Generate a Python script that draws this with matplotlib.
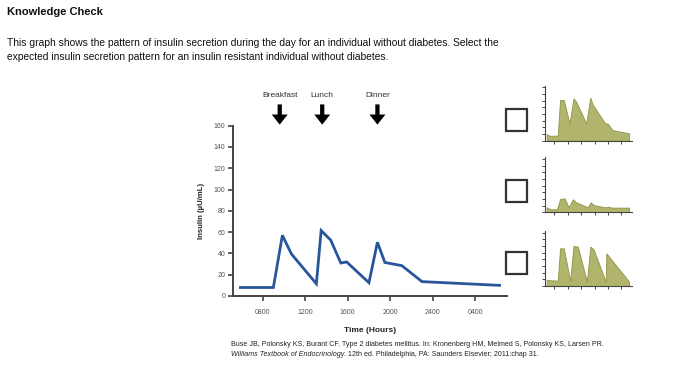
import matplotlib
matplotlib.use('Agg')
import matplotlib.pyplot as plt
from matplotlib.patches import Rectangle, FancyArrow

plt.rcParams['font.family'] = ['Liberation Sans', 'DejaVu Sans']

# Main curve: insulin over the day (hours, 24+ = after midnight)
main_hours = [5.9, 9.0, 9.85, 10.7, 13.05, 13.5, 14.4, 15.35, 15.9, 18.0, 18.8, 19.5, 21.1, 23.0, 30.3]
main_insulin = [8, 8, 57, 39.5, 11.5, 61.5, 52.5, 31, 32, 12.5, 50.5, 31.5, 28.5, 13.5, 10]

meals = ['Breakfast', 'Lunch', 'Dinner']
meal_hours = [9.6, 13.6, 18.8]

y_ticks = [0, 20, 40, 60, 80, 100, 120, 140, 160]
x_ticks = [8, 12, 16, 20, 24, 28]
x_labels = ['0800', '1200', '1600', '2000', '2400', '0400']

# Answer options (small charts)
opt1_hours = [5.7, 6.5, 9.0, 9.7, 10.8, 12.5, 13.7, 14.5, 17.5, 18.7, 19.5, 23.0, 24.0, 25.3, 30.3]
opt1_insulin = [20, 15, 15, 122, 122, 52, 127, 117, 52, 129, 107, 54, 50, 32, 22]

opt2_hours = [5.7, 6.8, 8.8, 9.7, 11.0, 12.3, 13.5, 14.5, 18.0, 18.8, 19.7, 23.0, 24.0, 25.0, 30.3]
opt2_insulin = [15, 9, 9, 40, 42, 15, 39, 30, 15, 30, 22, 15, 17, 14, 14]

opt3_hours = [5.7, 9.0, 9.7, 10.8, 12.7, 13.7, 15.0, 17.7, 18.7, 19.7, 23.3, 23.5, 30.3]
opt3_insulin = [18, 16, 113, 113, 15, 120, 118, 13, 118, 110, 13, 98, 13]

W, H = 700, 375
fig = plt.figure(figsize=(W / 100, H / 100), dpi=100)
fig.patch.set_facecolor('white')


def px_axes(left, top, right, bottom):
    return fig.add_axes([left / W, 1 - bottom / H, (right - left) / W, (bottom - top) / H])


# Header text
fig.text(7 / W, 1 - 12 / H, 'Knowledge Check', fontsize=8, fontweight='bold', va='center', color='#111111')
fig.text(7 / W, 1 - 43.5 / H,
         'This graph shows the pattern of insulin secretion during the day for an individual without diabetes. Select the',
         fontsize=7.4, va='center', color='#111111')
fig.text(7 / W, 1 - 57.5 / H,
         'expected insulin secretion pattern for an insulin resistant individual without diabetes.',
         fontsize=7.4, va='center', color='#111111')

# Main chart
ax = px_axes(233, 125.7, 507, 296)
ax.plot(main_hours, main_insulin, color='#28569a', lw=2, solid_joinstyle='miter')
ax.set_xlim(5.2, 31)
ax.set_ylim(0, 160)
ax.set_yticks(y_ticks)
ax.set_xticks(x_ticks)
ax.set_xticklabels(x_labels)
for s in ['top', 'right']:
    ax.spines[s].set_visible(False)
for s in ['left', 'bottom']:
    ax.spines[s].set_color('#444444')
    ax.spines[s].set_linewidth(1.4)
ax.tick_params(direction='out', length=3.5, width=1.2, color='#444444',
               labelsize=5, labelcolor='#555555', pad=2)
ax.tick_params(axis='x', pad=6)
ax.set_ylabel('Insulin (\u00b5U/mL)', fontsize=5.6, fontweight='bold', labelpad=6, color='#222222')
ax.set_xlabel('Time (Hours)', fontsize=6, fontweight='bold', labelpad=8, color='#222222')

# meal arrows (width in hours, length in insulin units)
for name, h in zip(meals, meal_hours):
    ax.add_patch(FancyArrow(h, 180, 0, -19, width=0.4, head_width=1.5, head_length=9.5,
                            length_includes_head=True, color='black', lw=0, clip_on=False))
    ax.text(h, 188, name, ha='center', va='center', fontsize=6, color='#333333', clip_on=False)

# Option charts
options = [(opt1_hours, opt1_insulin), (opt2_hours, opt2_insulin), (opt3_hours, opt3_insulin)]
bottoms = [140.7, 212.3, 286]
box_tops = [109, 180.5, 252]
for (hrs, ins), b, bt in zip(options, bottoms, box_tops):
    sa = px_axes(545, b - 55, 631.5, b)
    sa.fill_between(hrs, ins, 0, color='#b1b46c', edgecolor='#8e9244', lw=0.6)
    sa.set_xlim(5.2, 31)
    sa.set_ylim(0, 165)
    sa.set_yticks(y_ticks)
    sa.set_xticks(x_ticks)
    sa.set_xticklabels([])
    sa.set_yticklabels([])
    for s in ['top', 'right']:
        sa.spines[s].set_visible(False)
    for s in ['left', 'bottom']:
        sa.spines[s].set_color('#444444')
        sa.spines[s].set_linewidth(0.8)
    sa.tick_params(direction='out', length=2, width=0.7, color='#444444')
    fig.add_artist(Rectangle((505.5 / W, 1 - (bt + 21.5) / H), 21.5 / W, 21.5 / H,
                             transform=fig.transFigure, fill=False, edgecolor='#333333', lw=1.6))

# Citation
fig.text(231 / W, 1 - 344 / H,
         'Buse JB, Polonsky KS, Burant CF. Type 2 diabetes mellitus. In: Kronenberg HM, Melmed S, Polonsky KS, Larsen PR.',
         fontsize=5.1, va='center', color='#222222')
it = fig.text(231 / W, 1 - 354 / H, 'Williams Textbook of Endocrinology', fontsize=5.1, style='italic',
              va='center', color='#222222')
fig.canvas.draw()
bb = it.get_window_extent()
fig.text(bb.x1 / W, 1 - 354 / H, '. 12th ed. Philadelphia, PA: Saunders Elsevier; 2011:chap 31.',
         fontsize=5.1, va='center', color='#222222')

fig.savefig('out.png', dpi=100, facecolor='white')
